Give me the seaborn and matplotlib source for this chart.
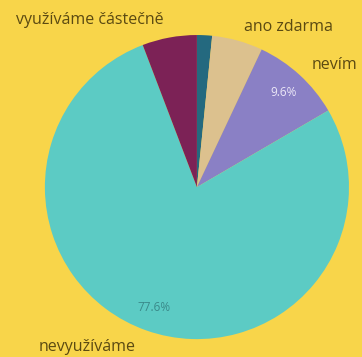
import matplotlib
matplotlib.use("Agg")
import matplotlib.pyplot as plt
import numpy as np
import seaborn as sns

# Slice order: clockwise from 12 o'clock
categories = ["", "ano zdarma", "nevím", "nevyužíváme", "využíváme částečně"]
shares = [1.6, 5.4, 9.6, 77.6, 5.8]
show_pct = [False, False, True, True, False]
colors = ["#24697f", "#dcc18e", "#8a80c5", "#5ccbc4", "#7c2256"]
pct_colors = ["white", "white", "#ece8f7", "#3a8a8a", "white"]

BG = "#f8d54a"
TEXT = "#5b4a12"

sns.set_theme(style="white")
plt.rcParams["font.family"] = ["Open Sans", "DejaVu Sans"]

fig = plt.figure(figsize=(3.62, 3.57), dpi=100, facecolor=BG)
ax = fig.add_axes([0.124, 0.050, 0.840, 0.852])
ax.set_facecolor(BG)

wedges, _ = ax.pie(shares, colors=colors, startangle=90, counterclock=False,
                   wedgeprops={"linewidth": 0})
ax.set_xlim(-1, 1)
ax.set_ylim(-1, 1)
ax.set_aspect("equal")
ax.axis("off")

# Percent labels inside the two bigger slices
for w, s, show, c in zip(wedges, shares, show_pct, pct_colors):
    if not show:
        continue
    ang = np.deg2rad((w.theta1 + w.theta2) / 2)
    ax.text(0.84 * np.cos(ang), 0.84 * np.sin(ang), f"{s:.1f}%",
            ha="center", va="center", fontsize=8.5, color=c)

# Category labels outside the pie
label_style = dict(ha="center", va="center", fontsize=11.5, color=TEXT)
fig.text(0.247, 0.944, "využíváme částečně", **label_style)
fig.text(0.796, 0.924, "ano zdarma", **label_style)
fig.text(0.925, 0.818, "nevím", **label_style)
fig.text(0.242, 0.028, "nevyužíváme", **label_style)

fig.savefig("out.png", dpi=100, facecolor=BG)
